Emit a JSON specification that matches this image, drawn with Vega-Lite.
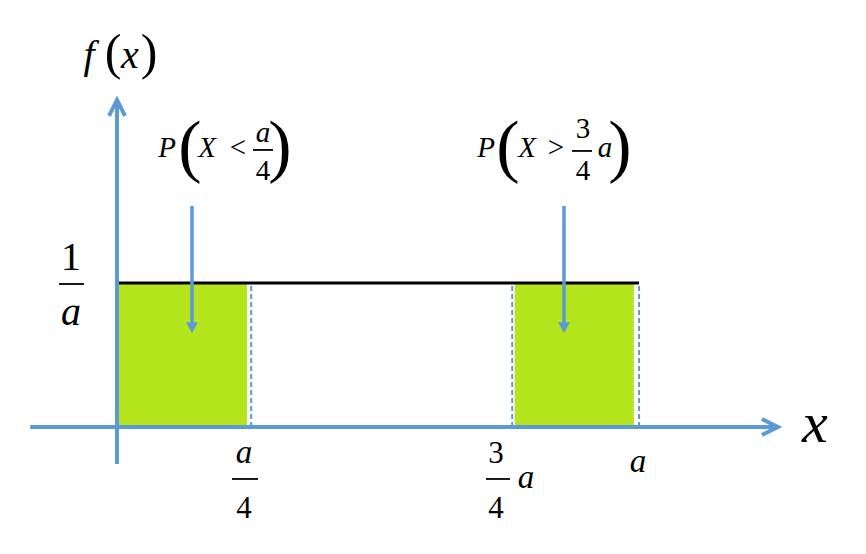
{
  "$schema": "https://vega.github.io/schema/vega-lite/v6.json",
  "width": 866,
  "height": 554,
  "padding": 0,
  "autosize": {"type": "fit", "contains": "padding"},
  "background": "white",
  "config": {"view": {"stroke": null}},
  "datasets": {
    "regions": [{"x": 0, "x2": 0.25, "y": 0, "y2": 1}, {"x": 0.765, "x2": 0.994, "y": 0, "y2": 1}],
    "density": [{"x": 0, "x2": 1.004, "y": 1}],
    "dashes": [{"x": 0.258, "y": 0, "y2": 1}, {"x": 0.76, "y": 0, "y2": 1}, {"x": 1.004, "y": 0, "y2": 1}],
    "axes": [{"x": -0.167, "x2": 1.271, "y": 0, "y2": 0}, {"x": 0, "x2": 0, "y": -0.257, "y2": 2.271}],
    "xtip": [{"x": 1.271, "y": 0}],
    "ytip": [{"x": 0, "y": 2.271}],
    "pointers": [{"x": 0.1442, "y": 1.535, "y2": 0.72}, {"x": 0.8596, "y": 1.535, "y2": 0.72}],
    "pointerTips": [{"x": 0.1442, "y": 0.653}, {"x": 0.8596, "y": 0.653}],
    "bars": [
      {"x": 0.2615, "x2": 0.3, "y": 1.924},
      {"x": 0.875, "x2": 0.9135, "y": 1.917},
      {"x": -0.1115, "x2": -0.0635, "y": 0.993},
      {"x": 0.2212, "x2": 0.2712, "y": -0.361},
      {"x": 0.7096, "x2": 0.7558, "y": -0.361}
    ],
    "probItalic": [
      {"x": 0.0962, "y": 1.875, "t": "P"},
      {"x": 0.1731, "y": 1.875, "t": "X"},
      {"x": 0.2808, "y": 1.979, "t": "a"},
      {"x": 0.7096, "y": 1.875, "t": "P"},
      {"x": 0.7885, "y": 1.875, "t": "X"},
      {"x": 0.9385, "y": 1.875, "t": "a"}
    ],
    "probNormal": [
      {"x": 0.2327, "y": 1.875, "t": "<"},
      {"x": 0.2808, "y": 1.715, "t": "4"},
      {"x": 0.8442, "y": 1.875, "t": ">"},
      {"x": 0.8962, "y": 2.007, "t": "3"},
      {"x": 0.8962, "y": 1.715, "t": "4"}
    ],
    "bigParens": [
      {"x": 0.1404, "y": 1.792, "t": "("},
      {"x": 0.3135, "y": 1.792, "t": ")"},
      {"x": 0.7519, "y": 1.792, "t": "("},
      {"x": 0.9673, "y": 1.792, "t": ")"}
    ],
    "tickItalic": [
      {"x": 0.2442, "y": -0.25, "t": "a"},
      {"x": 0.7865, "y": -0.4236, "t": "a"},
      {"x": 1.0019, "y": -0.3125, "t": "a"}
    ],
    "tickNormal": [
      {"x": 0.2442, "y": -0.632, "t": "4"},
      {"x": 0.7288, "y": -0.25, "t": "3"},
      {"x": 0.7288, "y": -0.632, "t": "4"}
    ],
    "yNormal": [{"x": -0.0885, "y": 1.09, "t": "1"}],
    "yItalic": [
      {"x": -0.0885, "y": 0.708, "t": "a"},
      {"x": -0.0538, "y": 2.493, "t": "f"},
      {"x": 0.025, "y": 2.493, "t": "x"}
    ],
    "fParens": [{"x": -0.0077, "y": 2.486, "t": "("}, {"x": 0.0615, "y": 2.486, "t": ")"}],
    "xTitle": [{"x": 1.3423, "y": -0.104, "t": "x"}]
  },
  "encoding": {
    "x": {"field": "x", "type": "quantitative", "axis": null, "scale": {"domain": [-0.225, 1.4404], "nice": false, "zero": false}},
    "y": {"field": "y", "type": "quantitative", "axis": null, "scale": {"domain": [-0.8819, 2.9653], "nice": false, "zero": false}}
  },
  "layer": [
    {"data": {"name": "regions"}, "mark": {"type": "rect", "fill": "#B5E61D"},
     "encoding": {"x2": {"field": "x2"}, "y2": {"field": "y2"}}},
    {"data": {"name": "density"}, "mark": {"type": "rule", "stroke": "black", "strokeWidth": 3},
     "encoding": {"x2": {"field": "x2"}}},
    {"data": {"name": "dashes"}, "mark": {"type": "rule", "stroke": "#5B9BD5", "strokeWidth": 2, "strokeDash": [5, 3]},
     "encoding": {"y2": {"field": "y2"}}},
    {"data": {"name": "axes"}, "mark": {"type": "rule", "stroke": "#5B9BD5", "strokeWidth": 4},
     "encoding": {"x2": {"field": "x2"}, "y2": {"field": "y2"}}},
    {"data": {"name": "xtip"}, "mark": {"type": "point", "shape": "M -1 2 L 0 0 L 1 2", "filled": false, "stroke": "#5B9BD5", "strokeWidth": 4, "size": 256, "angle": 90, "opacity": 1}},
    {"data": {"name": "ytip"}, "mark": {"type": "point", "shape": "M -1 2 L 0 0 L 1 2", "filled": false, "stroke": "#5B9BD5", "strokeWidth": 4, "size": 256, "angle": 0, "opacity": 1}},
    {"data": {"name": "pointers"}, "mark": {"type": "rule", "stroke": "#5B9BD5", "strokeWidth": 3.5},
     "encoding": {"y2": {"field": "y2"}}},
    {"data": {"name": "pointerTips"}, "mark": {"type": "point", "shape": "M -1 -1.8 L 1 -1.8 L 0 0 Z", "filled": true, "fill": "#5B9BD5", "size": 144, "opacity": 1}},
    {"data": {"name": "bars"}, "mark": {"type": "rule", "stroke": "black", "strokeWidth": 1.8},
     "encoding": {"x2": {"field": "x2"}}},
    {"layer": [
      {"data": {"name": "probItalic"}, "mark": {"type": "text", "font": "Liberation Serif", "fontStyle": "italic", "fontSize": 29, "align": "center", "baseline": "alphabetic"}},
      {"data": {"name": "probNormal"}, "mark": {"type": "text", "font": "Liberation Serif", "fontSize": 29, "align": "center", "baseline": "alphabetic"}},
      {"data": {"name": "bigParens"}, "mark": {"type": "text", "font": "Liberation Serif", "fontSize": 70, "align": "center", "baseline": "alphabetic"}},
      {"data": {"name": "tickItalic"}, "mark": {"type": "text", "font": "Liberation Serif", "fontStyle": "italic", "fontSize": 33, "align": "center", "baseline": "alphabetic"}},
      {"data": {"name": "tickNormal"}, "mark": {"type": "text", "font": "Liberation Serif", "fontSize": 31, "align": "center", "baseline": "alphabetic"}},
      {"data": {"name": "yNormal"}, "mark": {"type": "text", "font": "Liberation Serif", "fontSize": 40, "align": "center", "baseline": "alphabetic"}},
      {"data": {"name": "yItalic"}, "mark": {"type": "text", "font": "Liberation Serif", "fontStyle": "italic", "fontSize": 40, "align": "center", "baseline": "alphabetic"}},
      {"data": {"name": "fParens"}, "mark": {"type": "text", "font": "Liberation Serif", "fontSize": 50, "align": "center", "baseline": "alphabetic"}},
      {"data": {"name": "xTitle"}, "mark": {"type": "text", "font": "Liberation Serif", "fontStyle": "italic", "fontSize": 58, "align": "center", "baseline": "alphabetic"}}
    ],
    "encoding": {"text": {"field": "t"}}}
  ]
}
